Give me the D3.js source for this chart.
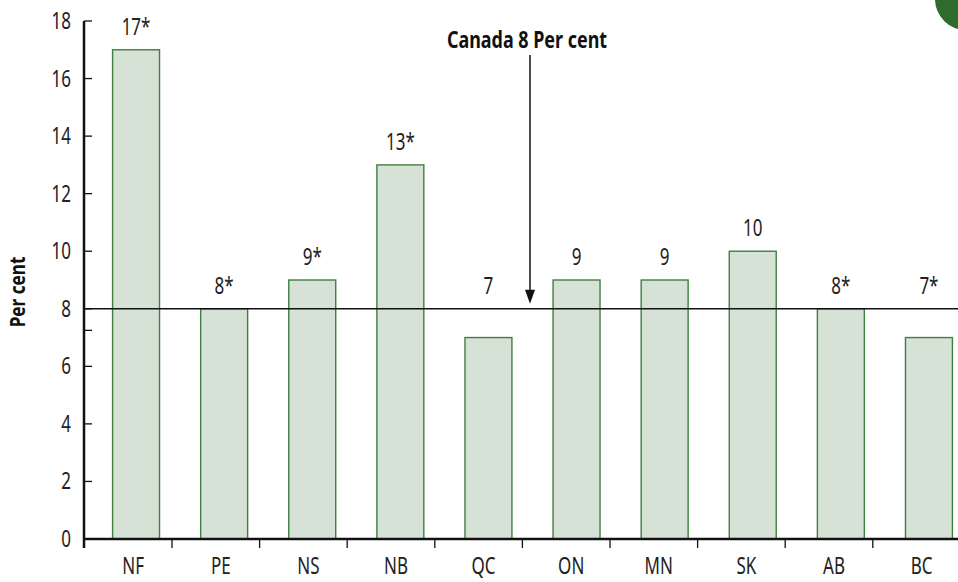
<!DOCTYPE html>
<html><head><meta charset="utf-8">
<script src="https://cdn.jsdelivr.net/npm/d3@7"></script>
<style>
body{margin:0;background:#fff;}
svg{display:block;font-family:"Noto Sans","Open Sans",sans-serif;}
</style></head><body>
<svg id="chart" width="958" height="582"></svg>
<script>
const categories = ["NF","PE","NS","NB","QC","ON","MN","SK","AB","BC"];
const values = [17,8,9,13,7,9,9,10,8,7];
const valueLabels = ["17*","8*","9*","13*","7","9","9","10","8*","7*"];
const canadaValue = 8;
const canadaLabel = "Canada 8 Per cent";
const yTicks = [0,2,4,6,8,10,12,14,16,18];
const yMinorTicks = [7.25];
const yTitle = "Per cent";

const svg = d3.select("#chart");
const y = d3.scaleLinear().domain([0,18]).range([539,21]);
const xAxisScale = d3.scaleBand().domain(categories).range([84.4,960.4]);
const xBars = d3.scaleBand().domain(categories).range([92,973]).paddingInner(0.467).paddingOuter(0.2335);

const fontSize = 23;
const sx = 0.74;
const place = (x, yy) => `translate(${x},${yy}) scale(${sx},1)`;

// bars
svg.append("g").selectAll("rect").data(categories).join("rect")
  .attr("x", d => xBars(d))
  .attr("y", (d,i) => y(values[i]))
  .attr("width", xBars.bandwidth())
  .attr("height", (d,i) => y(0) - y(values[i]))
  .attr("fill", "#d6e2d6")
  .attr("stroke", "#3f7f3f")
  .attr("stroke-width", 1.4);

// reference line
svg.append("line")
  .attr("x1", 84).attr("x2", 958)
  .attr("y1", y(canadaValue)).attr("y2", y(canadaValue))
  .attr("stroke", "#111").attr("stroke-width", 1.5);

// value labels
svg.append("g").selectAll("text").data(categories).join("text")
  .attr("transform", (d,i) => place(xBars(d) + xBars.bandwidth()/2, Math.min(y(values[i]), y(canadaValue)) - 15))
  .attr("text-anchor", "middle")
  .attr("font-size", fontSize)
  .attr("fill", "#222")
  .text((d,i) => valueLabels[i]);

// y axis
const yAxisG = svg.append("g").attr("transform","translate(84,0)");
yAxisG.append("line").attr("x1",0).attr("x2",0).attr("y1",y(18)).attr("y2",548)
  .attr("stroke","#111").attr("stroke-width",2.5);
yAxisG.selectAll("line.tk").data(yTicks).join("line").attr("class","tk")
  .attr("x1",0).attr("x2",8).attr("y1",d=>y(d)).attr("y2",d=>y(d))
  .attr("stroke","#111").attr("stroke-width",1.3);
yAxisG.selectAll("line.mtk").data(yMinorTicks).join("line").attr("class","mtk")
  .attr("x1",0).attr("x2",8).attr("y1",d=>y(d)).attr("y2",d=>y(d))
  .attr("stroke","#111").attr("stroke-width",1.3);
yAxisG.selectAll("text").data(yTicks).join("text")
  .attr("transform", d => place(-13, y(d) + 8))
  .attr("text-anchor","end").attr("font-size",fontSize).attr("fill","#222")
  .text(d=>d);

// x axis
const xAxisG = svg.append("g");
xAxisG.append("line").attr("x1",84).attr("x2",958).attr("y1",y(0)).attr("y2",y(0))
  .attr("stroke","#111").attr("stroke-width",2.5);
xAxisG.selectAll("line.tk").data(categories.slice(1)).join("line").attr("class","tk")
  .attr("x1",d=>xAxisScale(d)).attr("x2",d=>xAxisScale(d))
  .attr("y1",y(0)).attr("y2",y(0)+9)
  .attr("stroke","#111").attr("stroke-width",1.3);
xAxisG.selectAll("text").data(categories).join("text")
  .attr("transform", d => place(xAxisScale(d)+xAxisScale.bandwidth()/2+5, 574))
  .attr("text-anchor","middle").attr("font-size",fontSize).attr("fill","#222")
  .text(d=>d);

// y title
svg.append("text")
  .attr("transform","translate(25,292) rotate(-90) scale(0.78,1)")
  .attr("text-anchor","middle").attr("font-size",22).attr("font-weight","bold").attr("fill","#111")
  .text(yTitle);

// Canada annotation
svg.append("text").attr("transform", "translate(527,48) scale(0.78,1)")
  .attr("text-anchor","middle").attr("font-size",23).attr("font-weight","bold").attr("fill","#111")
  .text(canadaLabel);
const ax = 530, tipY = y(canadaValue) - 5;
svg.append("line").attr("x1",ax).attr("x2",ax).attr("y1",55).attr("y2",tipY-12)
  .attr("stroke","#222").attr("stroke-width",1.6);
svg.append("path")
  .attr("d",`M${ax-5},${tipY-14}L${ax+5},${tipY-14}L${ax},${tipY}Z`)
  .attr("fill","#111");

// green corner circle
svg.append("circle").attr("cx",966).attr("cy",-1).attr("r",31).attr("fill","#306b2e");
</script>
</body></html>
